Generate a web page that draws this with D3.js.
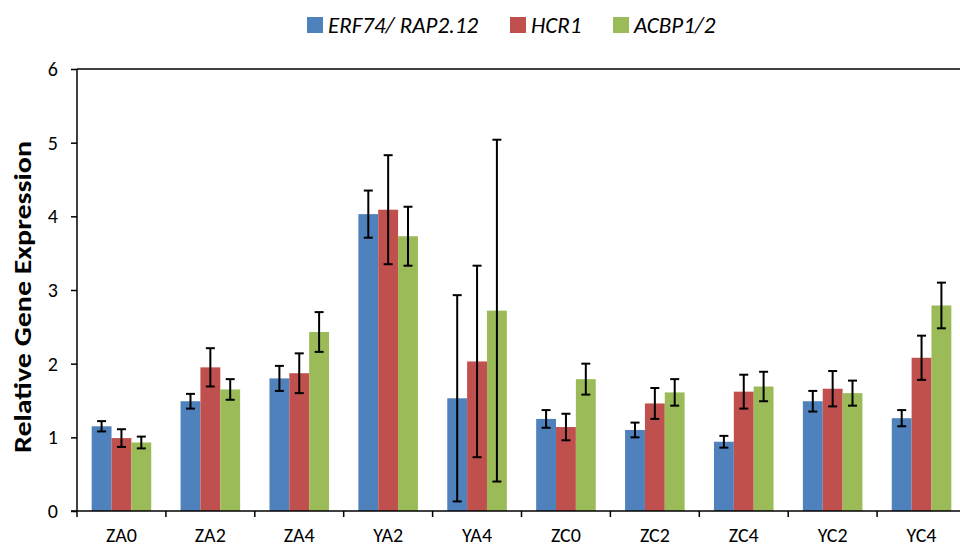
<!DOCTYPE html>
<html>
<head>
<meta charset="utf-8">
<script src="https://cdn.jsdelivr.net/npm/d3@7"></script>
<style>
  body { margin: 0; background: #fff; }
  text { font-family: Carlito, Lato, "Open Sans", sans-serif; }
</style>
</head>
<body>
<div id="chart"></div>
<script>
// Relative gene expression per sample, three genes
const categories = ["ZA0", "ZA2", "ZA4", "YA2", "YA4", "ZC0", "ZC2", "ZC4", "YC2", "YC4"];
const seriesNames = ["ERF74/ RAP2.12", "HCR1", "ACBP1/2"];
const erf74Values = [1.15, 1.49, 1.80, 4.03, 1.53, 1.25, 1.10, 0.94, 1.49, 1.26];
const erf74Errors = [0.07, 0.10, 0.17, 0.32, 1.40, 0.12, 0.10, 0.08, 0.14, 0.11];
const hcr1Values  = [0.99, 1.95, 1.87, 4.09, 2.03, 1.14, 1.46, 1.62, 1.66, 2.08];
const hcr1Errors  = [0.12, 0.26, 0.27, 0.74, 1.30, 0.18, 0.21, 0.23, 0.24, 0.30];
const acbpValues  = [0.93, 1.65, 2.43, 3.73, 2.72, 1.79, 1.61, 1.69, 1.60, 2.79];
const acbpErrors  = [0.08, 0.14, 0.27, 0.40, 2.32, 0.21, 0.18, 0.20, 0.17, 0.31];
const yTicks = [0, 1, 2, 3, 4, 5, 6];
const colors = ["#4F81BD", "#C0504D", "#9BBB59"];

const width = 960, height = 547;
const margin = { top: 69, right: -6, bottom: 36, left: 77 };

const svg = d3.select("#chart")
    .append("svg")
    .attr("width", width)
    .attr("height", height);

const x0 = d3.scaleBand()
    .domain(categories)
    .range([margin.left, width - margin.right])
    .paddingInner(0.33)
    .paddingOuter(0.165);

const x1 = d3.scaleBand()
    .domain(seriesNames)
    .range([0, x0.bandwidth()]);

const y = d3.scaleLinear()
    .domain([0, 6])
    .range([height - margin.bottom, margin.top]);

const rows = categories.map((c, i) => ({
    cat: c,
    vals: [
        { s: seriesNames[0], v: erf74Values[i], e: erf74Errors[i], k: 0 },
        { s: seriesNames[1], v: hcr1Values[i], e: hcr1Errors[i], k: 1 },
        { s: seriesNames[2], v: acbpValues[i], e: acbpErrors[i], k: 2 }
    ]
}));

// top line at max
svg.append("line")
    .attr("x1", margin.left)
    .attr("x2", width)
    .attr("y1", y(6))
    .attr("y2", y(6))
    .attr("stroke", "#000")
    .attr("stroke-width", 1.3);

// bars
const groups = svg.append("g")
    .selectAll("g")
    .data(rows)
    .join("g")
    .attr("transform", d => `translate(${x0(d.cat)},0)`);

groups.selectAll("rect")
    .data(d => d.vals)
    .join("rect")
    .attr("x", d => x1(d.s))
    .attr("y", d => y(d.v))
    .attr("width", x1.bandwidth())
    .attr("height", d => y(0) - y(d.v))
    .attr("fill", d => colors[d.k]);

// error bars
const err = groups.selectAll("g.err")
    .data(d => d.vals)
    .join("g")
    .attr("class", "err")
    .attr("stroke", "#000")
    .attr("stroke-width", 2);

err.append("line")
    .attr("x1", d => x1(d.s) + x1.bandwidth() / 2)
    .attr("x2", d => x1(d.s) + x1.bandwidth() / 2)
    .attr("y1", d => y(d.v + d.e))
    .attr("y2", d => y(d.v - d.e));

[1, -1].forEach(sign => {
    err.append("line")
        .attr("x1", d => x1(d.s) + x1.bandwidth() / 2 - 4.5)
        .attr("x2", d => x1(d.s) + x1.bandwidth() / 2 + 4.5)
        .attr("y1", d => y(d.v + sign * d.e))
        .attr("y2", d => y(d.v + sign * d.e));
});

// y axis
const yAxis = svg.append("g")
    .attr("transform", `translate(${margin.left},0)`)
    .call(d3.axisLeft(y).tickValues(yTicks).tickFormat(d3.format("d")).tickSize(6).tickPadding(13));
yAxis.select(".domain").attr("stroke-width", 1.5).attr("d", `M0,${y(6)}V${y(0)}`);
yAxis.selectAll(".tick line").attr("stroke-width", 1.5);
yAxis.selectAll("text")
    .style("font-size", "20px")
    .attr("fill", "#000");

// x axis with ticks between categories
const xAxis = svg.append("g")
    .attr("transform", `translate(0,${y(0)})`);
xAxis.append("line")
    .attr("x1", margin.left - 6)
    .attr("x2", width)
    .attr("stroke", "#000")
    .attr("stroke-width", 1.5);
xAxis.selectAll("line.sep")
    .data(categories)
    .join("line")
    .attr("class", "sep")
    .attr("x1", d => x0(d) - x0.step() * 0.165)
    .attr("x2", d => x0(d) - x0.step() * 0.165)
    .attr("y1", 0)
    .attr("y2", 6)
    .attr("stroke", "#000")
    .attr("stroke-width", 1.5);
xAxis.selectAll("text")
    .data(categories)
    .join("text")
    .attr("x", d => x0(d) + x0.bandwidth() / 2)
    .attr("y", 31)
    .attr("text-anchor", "middle")
    .style("font-size", "20px")
    .text(d => d);

// y title
svg.append("text")
    .attr("transform", `translate(31,${297}) rotate(-90)`)
    .attr("text-anchor", "middle")
    .attr("textLength", 312)
    .attr("lengthAdjust", "spacingAndGlyphs")
    .style("font-size", "25px")
    .style("font-weight", "bold")
    .text("Relative Gene Expression");

// legend
const legendX = [307, 510, 613];
const legend = svg.append("g")
    .selectAll("g")
    .data(seriesNames)
    .join("g")
    .attr("transform", (d, i) => `translate(${legendX[i]},25)`);
legend.append("rect")
    .attr("x", 0)
    .attr("y", -8)
    .attr("width", 16)
    .attr("height", 16)
    .attr("fill", (d, i) => colors[i]);
legend.append("text")
    .attr("x", 21)
    .attr("y", 8)
    .style("font-size", "23px")
    .style("font-style", "italic")
    .text(d => d);
</script>
</body>
</html>
